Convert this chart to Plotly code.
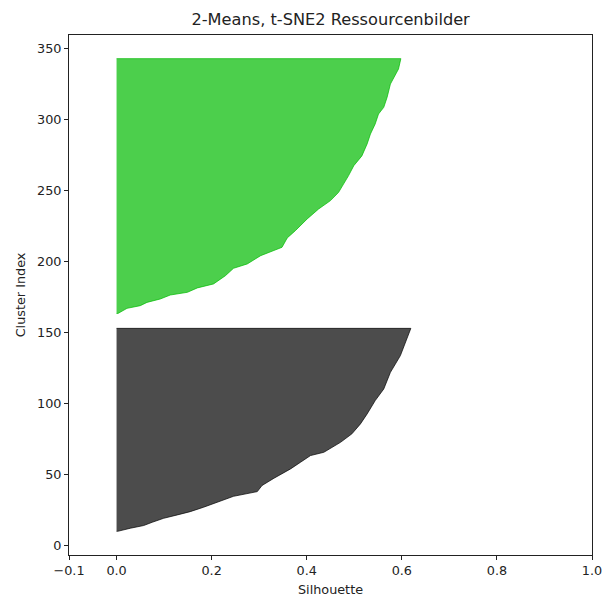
import plotly.graph_objects as go

# Cluster 0 (dark) – cluster index positions and sorted silhouette values
c0_index = [10, 12.2, 14.1, 16.4, 19.2, 21.6, 23.9, 27.0, 30.5, 34.7, 38.0, 42.3, 47.4,
            54.0, 58.7, 63.4, 65.7, 72.7, 78.7, 85.7, 92.7, 102.1, 110.3, 122.0, 133.8,
            145.5, 153]
c0_sil = [0.002, 0.029, 0.057, 0.075, 0.099, 0.128, 0.155, 0.183, 0.212, 0.246, 0.296,
          0.306, 0.331, 0.366, 0.387, 0.408, 0.436, 0.471, 0.495, 0.513, 0.527, 0.544,
          0.562, 0.576, 0.597, 0.611, 0.619]

# Cluster 1 (green)
c1_index = [163.5, 167.1, 169.0, 171.3, 173.7, 176.5, 178.4, 181.5, 184.3, 190.1, 195.3,
            198.4, 204.2, 210.1, 216.7, 221.8, 230.1, 237.1, 243.0, 248.8, 254.7, 260.6,
            267.6, 274.5, 282.9, 289.9, 297.0, 304.0, 308.7, 315.7, 325.1, 329.8, 335.7,
            343.0]
c1_sil = [0.003, 0.022, 0.050, 0.064, 0.092, 0.113, 0.149, 0.170, 0.204, 0.229, 0.246,
          0.275, 0.303, 0.348, 0.359, 0.376, 0.401, 0.425, 0.450, 0.467, 0.478, 0.488,
          0.499, 0.516, 0.527, 0.534, 0.544, 0.551, 0.562, 0.569, 0.576, 0.583, 0.593,
          0.598]

x_ticks = [-0.1, 0.0, 0.2, 0.4, 0.6, 0.8, 1.0]
x_ticktext = ["\u22120.1", "0.0", "0.2", "0.4", "0.6", "0.8", "1.0"]
y_ticks = [0, 50, 100, 150, 200, 250, 300, 350]

clusters = [
    (c0_index, c0_sil, "rgba(0,0,0,0.7)"),
    (c1_index, c1_sil, "rgba(0,187,0,0.7)"),
]

fig = go.Figure()
for idx, sil, col in clusters:
    xs = [0] + list(sil) + [0]
    ys = [idx[0]] + list(idx) + [idx[-1]]
    fig.add_trace(go.Scatter(
        x=xs, y=ys, mode="lines", fill="toself",
        fillcolor=col, line=dict(color=col, width=1),
        hoverinfo="skip", showlegend=False,
    ))

font = "DejaVu Sans, sans-serif"
axis_common = dict(
    showgrid=False, zeroline=False, showline=True, mirror=True,
    linecolor="#222", linewidth=1, ticks="outside", ticklen=4,
    tickwidth=1, tickcolor="#222", automargin=False,
    tickfont=dict(family=font, size=12.8, color="#222"),
)
fig.update_layout(
    width=605, height=597,
    margin=dict(l=69, r=13, t=35, b=42),
    paper_bgcolor="white", plot_bgcolor="white",
    title=dict(text="2-Means, t-SNE2 Ressourcenbilder", x=0.5465, xanchor="center",
               y=1 - 19 / 597, yanchor="middle", yref="container",
               font=dict(family=font, size=16.2, color="#222")),
    xaxis=dict(range=[-0.1, 1.0], tickvals=x_ticks, ticktext=x_ticktext,
               title=dict(text="Silhouette", standoff=8,
                          font=dict(family=font, size=12.8, color="#222")),
               **axis_common),
    yaxis=dict(range=[-6.65, 359.65], tickvals=y_ticks,
               title=dict(text="Cluster Index", standoff=8,
                          font=dict(family=font, size=12.8, color="#222")),
               **axis_common),
)

fig.write_html("out.html")
